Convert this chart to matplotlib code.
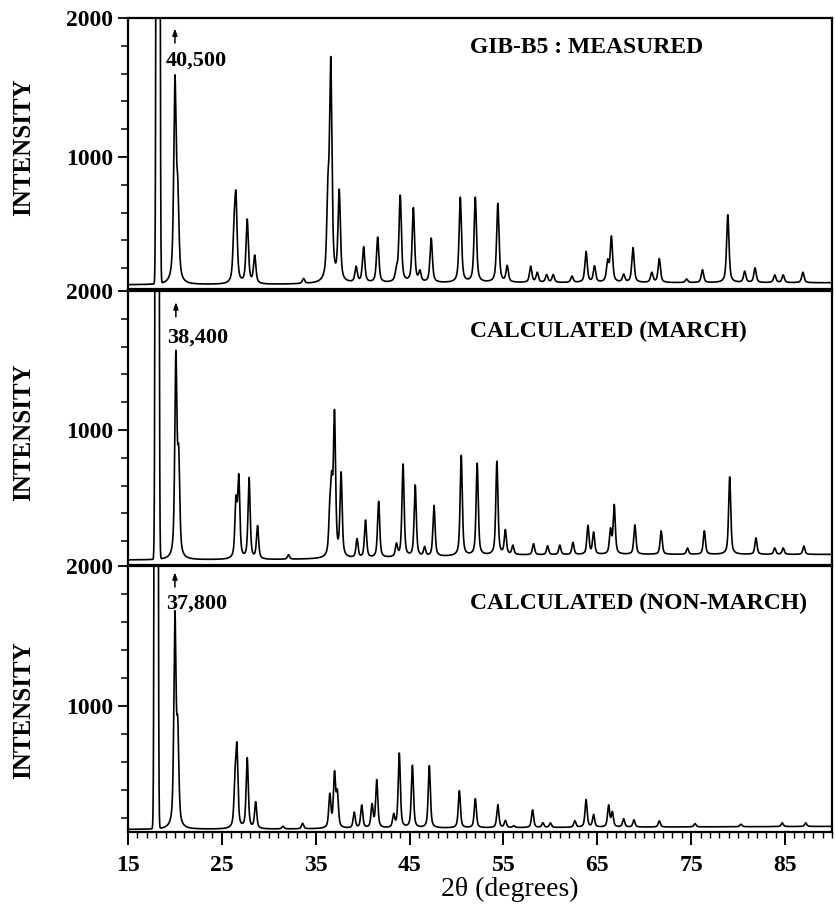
import numpy as np
import matplotlib
matplotlib.use("Agg")
import matplotlib.pyplot as plt
from matplotlib.ticker import MultipleLocator, FixedLocator

plt.rcParams['font.family'] = ['Liberation Serif', 'DejaVu Serif']

# ---------------- data ----------------
panel_titles = ["GIB-B5 : MEASURED", "CALCULATED (MARCH)", "CALCULATED (NON-MARCH)"]

# off-scale strongest reflection (position, labelled intensity)
strong_pos = [18.2, 18.1, 18.0]
strong_int = [40500, 38400, 37800]
strong_labels = ["40,500", "38,400", "37,800"]

# measured pattern peaks
meas_pos = [20.0, 20.3, 26.3, 26.5, 27.7, 28.5, 33.7, 36.3, 36.6, 37.5, 39.3, 40.1,
            41.6, 43.6, 44.0, 45.4, 46.1, 47.3, 50.4, 52.0, 54.4, 55.4, 57.9, 58.6,
            59.6, 60.3, 62.3, 63.8, 64.7, 66.1, 66.5, 67.8, 68.8, 70.8, 71.6, 74.5,
            76.2, 78.9, 80.7, 81.8, 83.9, 84.8, 86.9]
meas_int = [1504, 640, 380, 647, 540, 280, 120, 630, 1626, 734, 200, 345,
            417, 165, 712, 626, 165, 410, 705, 705, 662, 210, 210, 165,
            150, 150, 140, 316, 210, 237, 417, 150, 345, 165, 266, 120,
            187, 583, 175, 200, 150, 150, 170]
meas_bg_x = [15, 30, 40, 55, 70, 90]
meas_bg_y = [80, 82, 90, 95, 95, 95]

# calculated (March) pattern peaks
march_pos = [20.1, 20.4, 26.5, 26.8, 27.9, 28.8, 32.1, 36.5, 36.7, 37.0, 37.7, 39.4,
             40.3, 41.7, 43.6, 44.3, 45.6, 46.6, 47.6, 50.5, 52.2, 54.3, 55.2, 56.0,
             58.2, 59.7, 61.0, 62.4, 64.0, 64.6, 66.4, 66.8, 69.0, 71.8, 74.6, 76.4,
             79.1, 81.9, 83.9, 84.8, 87.0]
march_int = [1496, 727, 460, 633, 647, 302, 100, 345, 511, 1072, 669, 209,
             345, 482, 170, 748, 597, 150, 453, 813, 755, 770, 273, 165,
             180, 165, 170, 190, 309, 259, 273, 453, 316, 273, 150, 273,
             662, 223, 150, 150, 165]
march_bg_x = [15, 30, 40, 55, 70, 90]
march_bg_y = [65, 67, 75, 100, 105, 105]

# calculated (non-March) pattern peaks
nonm_pos = [20.0, 20.3, 26.4, 26.6, 27.7, 28.6, 31.5, 33.6, 36.5, 37.0, 37.3, 39.1,
            39.9, 41.0, 41.5, 43.3, 43.9, 45.3, 47.1, 50.3, 52.0, 54.4, 55.2, 56.1,
            58.1, 59.2, 60.0, 62.6, 63.8, 64.6, 66.2, 66.6, 67.8, 68.9, 71.6, 75.4,
            80.3, 84.7, 87.2]
nonm_int = [1607, 750, 393, 657, 621, 307, 140, 160, 357, 500, 357, 236,
            286, 286, 464, 214, 657, 571, 571, 393, 336, 293, 179, 143,
            257, 164, 164, 179, 329, 221, 286, 236, 193, 186, 179, 160,
            155, 165, 165]
nonm_bg_x = [15, 30, 40, 55, 70, 90]
nonm_bg_y = [118, 120, 124, 130, 135, 140]

x_ticks = [15, 25, 35, 45, 55, 65, 75, 85]

# ---------------- drawing ----------------
W, H = 837, 922
fig = plt.figure(figsize=(W / 100, H / 100), dpi=100)

left_px, right_px = 128, 832
panel_px = [(18, 289), (291, 565), (566, 832)]
ylims = [(50, 2000), (29, 2000), (100, 2000)]
title_y = [1790, 1712, 1729]
label_y = [1690, 1665, 1730]
arrow_y = [(1820, 1925), (1815, 1920), (1850, 1955)]
fwhms = [0.30, 0.27, 0.27]
etas = [0.65, 0.6, 0.6]

series = [(meas_pos, meas_int, meas_bg_x, meas_bg_y),
          (march_pos, march_int, march_bg_x, march_bg_y),
          (nonm_pos, nonm_int, nonm_bg_x, nonm_bg_y)]

x = np.arange(15.0, 90.001, 0.005)

for i, ((pos, inten, bgx, bgy), (y0, y1)) in enumerate(zip(series, panel_px)):
    ax = fig.add_axes([left_px / W, 1 - y1 / H, (right_px - left_px) / W, (y1 - y0) / H])
    base = lambda t: np.interp(t, bgx, bgy)
    y = base(x).astype(float)
    f = fwhms[i]
    for p, h in zip(pos, inten):
        amp = h - base(p)
        d2 = (x - p) ** 2 / f ** 2
        y += amp * (etas[i] / (1 + 4 * d2) + (1 - etas[i]) * np.exp(-4 * np.log(2) * d2))
    y += (strong_int[i] - base(strong_pos[i])) * np.exp(-0.5 * ((x - strong_pos[i]) / 0.1) ** 2)
    ax.plot(x, y, color='black', lw=1.2)

    ax.set_xlim(15, 90)
    ax.set_ylim(*ylims[i])
    for s in ax.spines.values():
        s.set_linewidth(1.6)

    ax.yaxis.set_major_locator(FixedLocator([1000, 2000]))
    ax.yaxis.set_minor_locator(MultipleLocator(200))
    ax.tick_params(axis='y', which='major', direction='out', length=7.5, width=1.3, pad=3,
                   labelsize=17)
    ax.tick_params(axis='y', which='minor', direction='out', length=5, width=1.1)
    for lab in ax.get_yticklabels():
        lab.set_fontweight('bold')

    if i < 2:
        ax.tick_params(axis='x', which='both', bottom=False, labelbottom=False)
    else:
        ax.xaxis.set_major_locator(FixedLocator(x_ticks))
        ax.xaxis.set_minor_locator(MultipleLocator(1))
        ax.tick_params(axis='x', which='major', direction='out', length=9.5, width=1.4, pad=7,
                       labelsize=17)
        ax.tick_params(axis='x', which='minor', direction='out', length=4, width=1.0)
        for lab in ax.get_xticklabels():
            lab.set_fontweight('bold')

    ax.text(51.4, title_y[i], panel_titles[i], fontsize=17, fontweight='bold',
            ha='left', va='center')

    xp = pos[0]
    ax.annotate('', xy=(xp, arrow_y[i][1]), xytext=(xp, arrow_y[i][0]),
                arrowprops=dict(arrowstyle='-|>,head_length=0.5,head_width=0.18',
                                color='black', lw=1.1, mutation_scale=8,
                                shrinkA=0, shrinkB=0))
    ax.text(xp - 0.95, label_y[i], strong_labels[i], fontsize=16, fontweight='bold',
            ha='left', va='center')

    yc = [147, 432, 710][i]
    fig.text(24 / W, 1 - yc / H, "INTENSITY", rotation=90, fontsize=18, fontweight='bold',
             ha='center', va='center')

fig.text(510 / W, 1 - 889 / H, "2\u03b8 (degrees)", fontsize=20, ha='center', va='center')

fig.savefig("out.png", dpi=100, facecolor='white')
